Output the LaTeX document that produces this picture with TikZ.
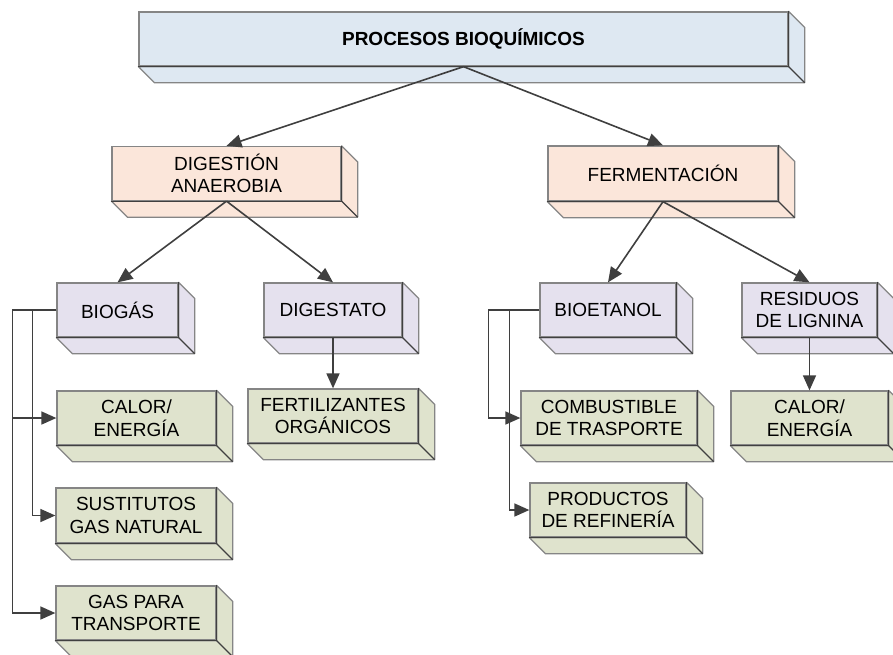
\documentclass[tikz,border=0pt]{standalone}
\usepackage{fontspec}
\setmainfont{Liberation Sans}
\usetikzlibrary{arrows.meta,calc}

\definecolor{edgegray}{HTML}{858585}
\definecolor{inneredge}{HTML}{404040}
\definecolor{linkgray}{HTML}{3F3F3F}
\definecolor{fillblue}{HTML}{DEE8F2}
\definecolor{fillpeach}{HTML}{FBE6DA}
\definecolor{filllav}{HTML}{E5E1EE}
\definecolor{fillgreen}{HTML}{DFE3CD}

\tikzset{
  box/.style={draw=edgegray, line width=1.3pt, rectangle, inner sep=0pt,
    align=center, font=\fontsize{19}{22.5}\selectfont},
  topbox/.style={box, fill=fillblue, font=\fontsize{19}{22}\selectfont\bfseries},
  midbox/.style={box, fill=fillpeach},
  subbox/.style={box, fill=filllav},
  endbox/.style={box, fill=fillgreen},
  link/.style={draw=linkgray, line width=1.6pt,
    -{Triangle[length=15pt,width=13pt]}},
}

% draws the right and bottom faces of a block behind a front face node
\newcommand{\extrude}[2]{%
  \filldraw[fill=#2, draw=edgegray, line width=1.3pt, line join=round]
    (#1.north east) -- ++(16,16) -- ($(#1.south east)+(16,16)$)
    -- ($(#1.south west)+(16,16)$) -- (#1.south west) -- (#1.south east) -- cycle;
  \draw[inneredge, line width=1.3pt] (#1.north east) -- (#1.south east)
    -- (#1.south west);
  \draw[inneredge, line width=1.3pt] (#1.south east) -- ++(16,16);
}

\begin{document}
\begin{tikzpicture}[x=1pt, y=-1pt]
\useasboundingbox (0,0) rectangle (893,654);

% front faces
\node[topbox, minimum width=649pt, minimum height=54pt] (root) at (463.5,39) {PROCESOS BIOQUÍMICOS};
\node[midbox, minimum width=229pt, minimum height=54pt] (dig) at (226.5,173.5) {DIGESTIÓN\\ANAEROBIA};
\node[midbox, minimum width=230pt, minimum height=55pt] (fer) at (663,173.5) {FERMENTACIÓN};

\node[subbox, minimum width=121pt, minimum height=54pt] (bio) at (117.5,310) {BIOGÁS};
\node[subbox, minimum width=138pt, minimum height=54pt] (dgs) at (333,310) {DIGESTATO};
\node[subbox, minimum width=136pt, minimum height=54pt] (bet) at (608,310) {BIOETANOL};
\node[subbox, minimum width=135pt, minimum height=54pt] (res) at (809.5,310) {RESIDUOS\\DE LIGNINA};

\node[endbox, minimum width=159pt, minimum height=54pt] (cal1) at (136.5,418) {CALOR/\\ENERGÍA};
\node[endbox, minimum width=160pt, minimum height=55pt] (sus) at (136,515.5) {SUSTITUTOS\\GAS NATURAL};
\node[endbox, minimum width=160pt, minimum height=54pt] (gas) at (136,613) {GAS PARA\\TRANSPORTE};
\node[endbox, minimum width=170pt, minimum height=54pt] (fert) at (333,416) {FERTILIZANTES\\ORGÁNICOS};
\node[endbox, minimum width=176pt, minimum height=54pt] (comb) at (609,418) {COMBUSTIBLE\\DE TRASPORTE};
\node[endbox, minimum width=156pt, minimum height=54pt] (prod) at (608,510) {PRODUCTOS\\DE REFINERÍA};
\node[endbox, minimum width=157pt, minimum height=54pt] (cal2) at (809.5,418) {CALOR/\\ENERGÍA};

% block depth
\extrude{root}{fillblue}
\extrude{dig}{fillpeach}
\extrude{fer}{fillpeach}
\extrude{bio}{filllav}
\extrude{dgs}{filllav}
\extrude{bet}{filllav}
\extrude{res}{filllav}
\extrude{cal1}{fillgreen}
\extrude{sus}{fillgreen}
\extrude{gas}{fillgreen}
\extrude{fert}{fillgreen}
\extrude{comb}{fillgreen}
\extrude{prod}{fillgreen}
\extrude{cal2}{fillgreen}

% straight links
\draw[link] (root.south) -- (dig.north);
\draw[link] (root.south) -- (fer.north);
\draw[link] (dig.south) -- (bio.north);
\draw[link] (dig.south) -- (dgs.north);
\draw[link] (fer.south) -- (bet.north);
\draw[link] (fer.south) -- (res.north);
\draw[link] (dgs.south) -- (fert.north);
\draw[link] (res.south) -- (cal2.north);

% elbow links
\draw[link] (bio.west) -- ++(-44,0) |- (cal1.west);
\draw[link] (bio.west) -- ++(-24,0) |- (sus.west);
\draw[link] (bio.west) -- ++(-44,0) |- (gas.west);
\draw[link] (bet.west) -- ++(-51,0) |- (comb.west);
\draw[link] (bet.west) -- ++(-30,0) |- (prod.west);
\end{tikzpicture}
\end{document}
